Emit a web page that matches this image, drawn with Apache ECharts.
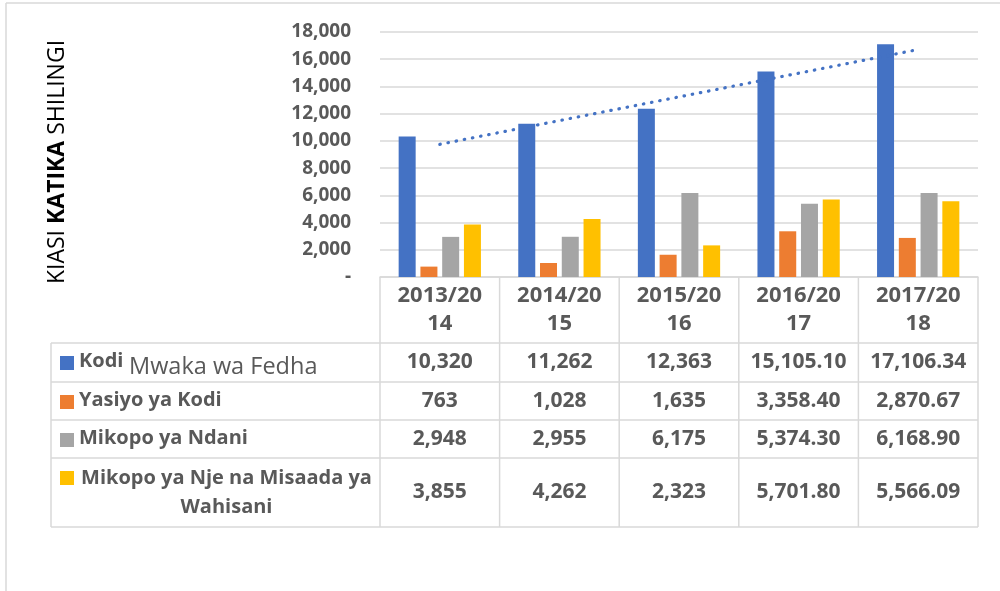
<!DOCTYPE html>
<html>
<head>
<meta charset="utf-8">
<script src="https://cdn.jsdelivr.net/npm/echarts@6/dist/echarts.min.js"></script>
<style>
  html, body { margin: 0; padding: 0; background: #fff; }
  #chart { width: 1000px; height: 591px; }
</style>
</head>
<body>
<div id="chart"></div>
<script>
// data
var years = ['2013/2014', '2014/2015', '2015/2016', '2016/2017', '2017/2018'];
var decimals = [0, 0, 0, 2, 2];
var seriesNames = ['Kodi', 'Yasiyo ya Kodi', 'Mikopo ya Ndani', 'Mikopo ya Nje na Misaada ya Wahisani'];
var kodi = [10320, 11262, 12363, 15105.10, 17106.34];
var yasiyoKodi = [763, 1028, 1635, 3358.40, 2870.67];
var mikopoNdani = [2948, 2955, 6175, 5374.30, 6168.90];
var mikopoNje = [3855, 4262, 2323, 5701.80, 5566.09];
var colors = ['#4472C4', '#ED7D31', '#A5A5A5', '#FFC000'];

var allSeries = [kodi, yasiyoKodi, mikopoNdani, mikopoNje];

// linear trend of Kodi (least squares, like the Excel trendline)
function linearTrend(arr) {
    var n = arr.length, sx = 0, sy = 0, sxy = 0, sxx = 0;
    for (var i = 0; i < n; i++) {
        var x = i + 1;
        sx += x; sy += arr[i]; sxy += x * arr[i]; sxx += x * x;
    }
    var b = (n * sxy - sx * sy) / (n * sxx - sx * sx);
    var a = (sy - b * sx) / n;
    return arr.map(function (v, i) { return a + b * (i + 1); });
}

var fontFam = '"Open Sans", "Noto Sans", sans-serif';
var textColor = '#595959';
var borderColor = '#d9d9d9';

var gridLeft = 380, gridRight = 978, gridTop = 32, gridBottom = 277;
var rowLines = [343, 382, 420, 458, 527];
var tableLeft = 51;

var chart = echarts.init(document.getElementById('chart'), null, { renderer: 'canvas' });

var series = allSeries.map(function (data, i) {
    return {
        name: seriesNames[i],
        type: 'bar',
        data: data,
        barWidth: 17,
        barGap: '28%',
        itemStyle: { color: colors[i] },
        silent: true
    };
});
series.push({
    name: 'trend',
    type: 'line',
    data: linearTrend(kodi),
    showSymbol: false,
    silent: true,
    z: 5,
    lineStyle: { color: '#4472C4', width: 3.2, type: [0.5, 7.8], cap: 'round' }
});

var option = {
    animation: false,
    grid: {
        left: gridLeft,
        top: gridTop,
        width: gridRight - gridLeft,
        height: gridBottom - gridTop
    },
    xAxis: {
        type: 'category',
        data: years,
        axisLine: { show: true, lineStyle: { color: borderColor, width: 1.5 } },
        axisTick: { show: false },
        axisLabel: {
            margin: 5,
            color: textColor,
            fontFamily: fontFam,
            fontWeight: 'bold',
            fontSize: 22,
            lineHeight: 28,
            width: 92,
            overflow: 'breakAll',
            interval: 0
        }
    },
    yAxis: {
        type: 'value',
        min: 0,
        max: 18000,
        interval: 2000,
        axisLine: { show: false },
        axisTick: { show: false },
        splitLine: { lineStyle: { color: borderColor, width: 1.5 } },
        axisLabel: {
            margin: 29,
            color: textColor,
            fontFamily: fontFam,
            fontWeight: 'bold',
            fontSize: 19,
            formatter: function (v) { return v === 0 ? '-' : v.toLocaleString('en-US'); }
        }
    },
    series: series
};

chart.setOption(option);

// data table under the chart
var ctx = document.createElement('canvas').getContext('2d');
function textWidth(str, font) {
    ctx.font = font;
    return ctx.measureText(str).width;
}
function wrapWords(str, font, maxW) {
    var words = str.split(' '), lines = [], cur = '';
    words.forEach(function (w) {
        var test = cur ? cur + ' ' + w : w;
        if (cur && textWidth(test, font) > maxW) {
            lines.push(cur);
            cur = w;
        } else {
            cur = test;
        }
    });
    lines.push(cur);
    return lines;
}

var graphics = [];
function hLine(x1, x2, y) {
    graphics.push({ type: 'line', shape: { x1: x1, y1: y, x2: x2, y2: y }, style: { stroke: borderColor, lineWidth: 1.5 }, silent: true });
}
function vLine(x, y1, y2) {
    graphics.push({ type: 'line', shape: { x1: x, y1: y1, x2: x, y2: y2 }, style: { stroke: borderColor, lineWidth: 1.5 }, silent: true });
}

// outer chart frame
hLine(6, 1000, 3);
vLine(6, 3, 591);

// column edges from the category axis
var step = chart.convertToPixel({ xAxisIndex: 0 }, years[1]) - chart.convertToPixel({ xAxisIndex: 0 }, years[0]);
var centers = years.map(function (y) { return chart.convertToPixel({ xAxisIndex: 0 }, y); });
var edges = [centers[0] - step / 2].concat(centers.map(function (c) { return c + step / 2; }));

edges.forEach(function (x) { vLine(x, gridBottom, rowLines[rowLines.length - 1]); });
vLine(tableLeft, rowLines[0], rowLines[rowLines.length - 1]);
rowLines.forEach(function (y) { hLine(tableLeft, edges[edges.length - 1], y); });

var labelLeft = 79, labelRight = 374;
var labelFont = 'bold 20px ' + fontFam;
allSeries.forEach(function (data, r) {
    var top = rowLines[r], bottom = rowLines[r + 1];
    var mid = (top + bottom) / 2;
    graphics.push({
        type: 'rect', silent: true,
        shape: { x: 60, y: top + 13, width: 14, height: 14 },
        style: { fill: colors[r] }
    });
    var lines = wrapWords(seriesNames[r], labelFont, labelRight - labelLeft);
    if (lines.length > 1) {
        graphics.push({
            type: 'text', silent: true,
            x: (labelLeft + labelRight) / 2, y: top + 6,
            style: {
                text: lines.join('\n'),
                align: 'center', verticalAlign: 'top', lineHeight: 29,
                font: labelFont, fill: textColor
            }
        });
    } else {
        graphics.push({
            type: 'text', silent: true,
            x: labelLeft, y: mid - 1,
            style: { text: seriesNames[r], align: 'left', verticalAlign: 'middle', font: labelFont, fill: textColor }
        });
    }
    data.forEach(function (v, c) {
        graphics.push({
            type: 'text', silent: true,
            x: centers[c], y: mid,
            style: {
                text: v.toLocaleString('en-US', { minimumFractionDigits: decimals[c], maximumFractionDigits: decimals[c] }),
                align: 'center', verticalAlign: 'middle',
                font: 'bold 21px ' + fontFam, fill: textColor
            }
        });
    });
});

// category axis title (sits over the table like in the original)
graphics.push({
    type: 'text', silent: true, z: 10,
    x: 129, y: 367,
    style: { text: 'Mwaka wa Fedha', align: 'left', verticalAlign: 'middle', font: '23.5px ' + fontFam, fill: textColor }
});

// value axis title
graphics.push({
    type: 'text', silent: true,
    x: 57, y: 162, rotation: Math.PI / 2,
    style: {
        text: '{n|KIASI }{b|KATIKA}{n| SHILINGI}',
        align: 'center', verticalAlign: 'middle',
        rich: {
            n: { fontFamily: fontFam, fontSize: 23, color: textColor },
            b: { fontFamily: fontFam, fontSize: 23, fontWeight: 'bold', color: textColor }
        }
    }
});

chart.setOption({ graphic: graphics });
</script>
</body>
</html>
